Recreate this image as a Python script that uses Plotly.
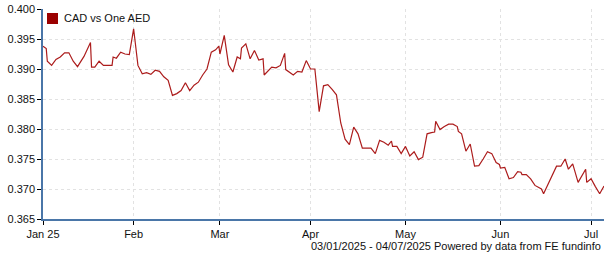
import plotly.graph_objects as go

# ---- data ----
dates = [
    "2025-01-03", "2025-01-03 18:00", "2025-01-06", "2025-01-07", "2025-01-08",
    "2025-01-09", "2025-01-10", "2025-01-13", "2025-01-14", "2025-01-15",
    "2025-01-16 12:00", "2025-01-20", "2025-01-20 06:00", "2025-01-21", "2025-01-22",
    "2025-01-23", "2025-01-27", "2025-01-27 06:00", "2025-01-28", "2025-01-29",
    "2025-01-30", "2025-01-31", "2025-02-03", "2025-02-04", "2025-02-05",
    "2025-02-06", "2025-02-07", "2025-02-10", "2025-02-11", "2025-02-12",
    "2025-02-13", "2025-02-14", "2025-02-17", "2025-02-18", "2025-02-19",
    "2025-02-20", "2025-02-21", "2025-02-24", "2025-02-25", "2025-02-26",
    "2025-02-27", "2025-02-28", "2025-02-28 18:00", "2025-03-03", "2025-03-04",
    "2025-03-05", "2025-03-06", "2025-03-07", "2025-03-07 18:00", "2025-03-10",
    "2025-03-11", "2025-03-12", "2025-03-13", "2025-03-14", "2025-03-17",
    "2025-03-17 06:00", "2025-03-19", "2025-03-20", "2025-03-21", "2025-03-24",
    "2025-03-24 06:00", "2025-03-26", "2025-03-27", "2025-03-28", "2025-03-31",
    "2025-04-01", "2025-04-02", "2025-04-03", "2025-04-04", "2025-04-07",
    "2025-04-08", "2025-04-09", "2025-04-10", "2025-04-11", "2025-04-14",
    "2025-04-15", "2025-04-16", "2025-04-17", "2025-04-18", "2025-04-21",
    "2025-04-22", "2025-04-23", "2025-04-24", "2025-04-25", "2025-04-25 18:00",
    "2025-04-28", "2025-04-29", "2025-04-30", "2025-05-01", "2025-05-02",
    "2025-05-05", "2025-05-06", "2025-05-07", "2025-05-08", "2025-05-09",
    "2025-05-09 18:00", "2025-05-12", "2025-05-13", "2025-05-14", "2025-05-15",
    "2025-05-16", "2025-05-19", "2025-05-19 06:00", "2025-05-20", "2025-05-21",
    "2025-05-22", "2025-05-23", "2025-05-26", "2025-05-27", "2025-05-28",
    "2025-05-29", "2025-05-30", "2025-05-30 18:00", "2025-06-02", "2025-06-03",
    "2025-06-04", "2025-06-05", "2025-06-06", "2025-06-06 18:00", "2025-06-09",
    "2025-06-10", "2025-06-11", "2025-06-12", "2025-06-13", "2025-06-13 12:00",
    "2025-06-16", "2025-06-19", "2025-06-20", "2025-06-23", "2025-06-23 18:00",
    "2025-06-24 18:00", "2025-06-26", "2025-06-27", "2025-06-27 18:00", "2025-06-30",
    "2025-07-01", "2025-07-02", "2025-07-03", "2025-07-04",
]

cad_vs_aed = [
    0.3938, 0.3934, 0.3913, 0.3906, 0.3916,
    0.3920, 0.3927, 0.3927, 0.3913, 0.3904,
    0.3921, 0.3944, 0.3903, 0.3903, 0.3913,
    0.3906, 0.3906, 0.3920, 0.3918, 0.3928,
    0.3925, 0.3924, 0.3967, 0.3906, 0.3892,
    0.3894, 0.3891, 0.3898, 0.3896, 0.3887,
    0.3881, 0.3856, 0.3859, 0.3864, 0.3877,
    0.3864, 0.3873, 0.3878, 0.3890, 0.3900,
    0.3928, 0.3932, 0.3938, 0.3925, 0.3956,
    0.3907, 0.3895, 0.3920, 0.3917, 0.3935,
    0.3942, 0.3917, 0.3931, 0.3915, 0.3917,
    0.3890, 0.3903, 0.3902, 0.3906, 0.3926,
    0.3899, 0.3890, 0.3896, 0.3895, 0.3914,
    0.3900, 0.3900, 0.3829, 0.3872, 0.3874,
    0.3866, 0.3857, 0.3810, 0.3783, 0.3774,
    0.3803, 0.3792, 0.3768, 0.3768, 0.3768,
    0.3759, 0.3781, 0.3778, 0.3773, 0.3780,
    0.3771, 0.3771, 0.3759, 0.3771, 0.3755,
    0.3762, 0.3749, 0.3753, 0.3792, 0.3794,
    0.3795, 0.3813, 0.3799, 0.3804, 0.3808,
    0.3808, 0.3804, 0.3796, 0.3792, 0.3763,
    0.3775, 0.3738, 0.3739, 0.3750, 0.3762,
    0.3759, 0.3744, 0.3741, 0.3735, 0.3736,
    0.3717, 0.3719, 0.3729, 0.3728, 0.3724,
    0.3724, 0.3717, 0.3706, 0.3701, 0.3700,
    0.3692, 0.3738, 0.3738, 0.3750, 0.3733,
    0.3742, 0.3711, 0.3724, 0.3733, 0.3711,
    0.3717, 0.3704, 0.3692, 0.3705,
]

x_tick_vals = ["2025-01-03", "2025-02-03", "2025-03-03", "2025-04-01",
               "2025-05-01", "2025-06-02", "2025-07-01"]
x_tick_text = ["Jan 25", "Feb", "Mar", "Apr", "May", "Jun", "Jul"]

series_name = "CAD vs One AED"
footer_text = "03/01/2025 - 04/07/2025 Powered by data from FE fundinfo"

# ---- layout constants ----
W, H = 605, 260
L, R, T, B = 43, 1, 9, 41
PW, PH = W - L - R, H - T - B
FONT = "Liberation Sans, Arial, sans-serif"
AXIS_BLUE = "#4a76a8"
GRID = "#e2e2e2"
LINE_RED = "#ac1c1c"
SWATCH_RED = "#9b0000"


def px_x(px):
    return (px - L) / PW


def px_y(py):
    return 1 - (py - T) / PH


fig = go.Figure()
fig.add_trace(go.Scatter(
    x=dates, y=cad_vs_aed, mode="lines",
    line=dict(color=LINE_RED, width=1.2),
    name=series_name, showlegend=False, hoverinfo="x+y",
))

fig.update_xaxes(
    type="date",
    range=["2025-01-03", "2025-07-04"],
    rangebreaks=[dict(bounds=["sat", "mon"])],
    tickmode="array", tickvals=x_tick_vals, ticktext=x_tick_text,
    ticks="outside", ticklen=4, tickcolor="#000", tickwidth=1,
    showline=True, linecolor=AXIS_BLUE, linewidth=1.5,
    showgrid=True, gridcolor=GRID, griddash="dot", gridwidth=1,
    zeroline=False,
    tickfont=dict(family=FONT, size=11, color="#111"),
)
fig.update_yaxes(
    range=[0.365, 0.400], tick0=0.365, dtick=0.005, tickformat=".3f",
    ticks="outside", ticklen=4, tickcolor="#000", tickwidth=1,
    showline=True, linecolor=AXIS_BLUE, linewidth=1.5,
    showgrid=True, gridcolor=GRID, griddash="dot", gridwidth=1,
    zeroline=False,
    tickfont=dict(family=FONT, size=11, color="#111"),
)

# legend swatch + label (decoration)
fig.add_shape(type="rect", xref="paper", yref="paper",
              x0=px_x(47), x1=px_x(58), y0=px_y(24), y1=px_y(13),
              fillcolor=SWATCH_RED, line=dict(width=0))
fig.add_annotation(xref="paper", yref="paper", x=px_x(62), y=px_y(18.5),
                   xanchor="left", yanchor="middle", showarrow=False,
                   text=series_name, font=dict(family=FONT, size=11, color="#111"))
fig.add_annotation(xref="paper", yref="paper", x=px_x(603), y=px_y(246),
                   xanchor="right", yanchor="middle", showarrow=False,
                   text=footer_text, font=dict(family=FONT, size=11, color="#111"))

fig.update_layout(
    width=W, height=H,
    margin=dict(l=L, r=R, t=T, b=B, pad=0),
    paper_bgcolor="white", plot_bgcolor="white",
    showlegend=False,
    font=dict(family=FONT, size=11, color="#111"),
)

fig.write_html("out.html")
